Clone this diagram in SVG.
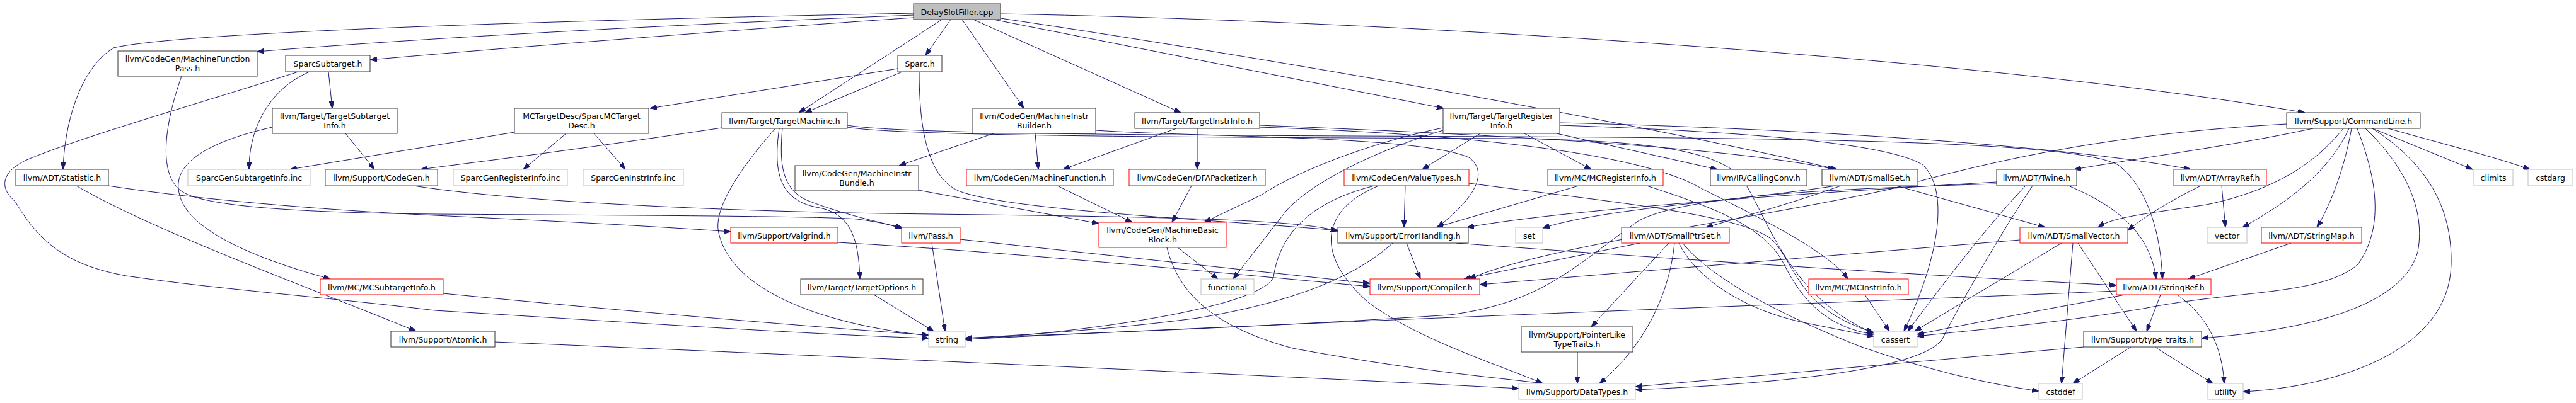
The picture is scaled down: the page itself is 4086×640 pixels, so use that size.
<svg xmlns="http://www.w3.org/2000/svg" width="4086" height="640" viewBox="0 0 4086 640">
<style>
rect{fill:#fff;stroke-width:1}
.b{stroke:#333}
.r{stroke:#ff0000}
.g{stroke:#bfbfbf}
.root{fill:#bfbfbf;stroke:#333}
text{font-family:"DejaVu Sans",sans-serif;font-size:12.5px;text-anchor:middle;fill:#000}
#edges path{fill:none;stroke:#191970;stroke-width:1;marker-end:url(#arr)}
</style>
<defs>
<marker id="arr" markerWidth="11" markerHeight="8" refX="11" refY="4" orient="auto" markerUnits="userSpaceOnUse"><path d="M0,0 L11,4 L0,8 Z" fill="#191970" stroke="#191970" stroke-width="1"/></marker>
</defs>
<rect x="0" y="0" width="4086" height="640" style="fill:#fff;stroke:none"/>
<g id="edges">
<path d="M1449,21 C1000,30 300,48 180,76 C125,110 102,200 100,269"/>
<path d="M1449,24 C1100,38 700,58 408,82"/>
<path d="M1449,28 C1200,45 800,76 587,95"/>
<path d="M1494,31 L1267,179"/>
<path d="M1508,31 L1468,88"/>
<path d="M1526,31 L1624,172"/>
<path d="M1544,31 L1873,179"/>
<path d="M1576,31 L2290,172"/>
<path d="M1587,29 C2000,90 2600,195 2914,269"/>
<path d="M1587,22 C2300,35 3200,100 3656,179"/>
<path d="M1424,109 L1031,172"/>
<path d="M1431,114 L1277,179"/>
<path d="M1458,114 C1458,200 1470,280 1520,303 C1600,335 1950,350 2122,366"/>
<path d="M521,114 L527,172"/>
<path d="M491,114 C430,140 395,200 395,269"/>
<path d="M473,114 C330,160 120,220 40,255 C0,275 0,300 24,320 C60,380 100,420 200,438 C350,460 500,470 690,493 C1000,512 1300,532 1473,537"/>
<path d="M288,121 C260,200 250,280 290,305 C330,330 500,338 690,340 C1000,342 1300,343 1360,348 C1390,352 1410,356 1430,363"/>
<path d="M121,295 C250,370 500,460 660,526"/>
<path d="M172,295 C300,315 500,333 690,342 C900,352 1050,360 1159,368"/>
<path d="M432,202 C330,225 270,260 285,310 C300,370 420,415 524,443"/>
<path d="M548,212 L594,269"/>
<path d="M816,210 L460,269"/>
<path d="M898,212 L830,269"/>
<path d="M942,212 L992,269"/>
<path d="M1145,203 C900,240 750,258 667,269"/>
<path d="M1241,204 C1236,260 1240,300 1280,318 C1330,338 1390,352 1432,362"/>
<path d="M1236,204 C1225,280 1240,320 1300,330 C1350,340 1362,380 1364,443"/>
<path d="M1230,204 C1180,260 1130,330 1140,370 C1160,460 1300,515 1473,533"/>
<path d="M1344,202 C1420,215 1800,218 2400,220 C2620,223 2720,240 2760,280 C2800,330 2830,470 2972,529"/>
<path d="M1344,199 C1420,212 1800,215 2400,217 C3000,220 3300,230 3360,262 C3410,300 3428,380 3430,443"/>
<path d="M1642,212 L1647,269"/>
<path d="M1576,212 L1426,263"/>
<path d="M1738,207 C1900,218 2250,215 2330,250 C2370,280 2320,330 2280,361"/>
<path d="M1866,204 L1686,269"/>
<path d="M1899,204 L1899,269"/>
<path d="M1998,199 C2400,215 2750,235 2910,269"/>
<path d="M1998,202 C2300,212 2600,240 2700,300 C2800,350 2900,400 2931,443"/>
<path d="M2348,212 L2256,269"/>
<path d="M2418,212 L2524,269"/>
<path d="M2469,212 L2724,269"/>
<path d="M2474,195 C2900,205 3300,235 3475,269"/>
<path d="M2474,199 C2800,210 3000,230 3050,262 C3090,300 3080,400 3020,526"/>
<path d="M2289,203 C2180,225 2060,270 2000,310 L1910,353"/>
<path d="M2289,207 C2180,240 2080,290 2040,335 L1956,443"/>
<path d="M2180,295 C2080,320 2030,370 2020,440 C2000,490 1700,530 1531,539"/>
<path d="M2229,295 L2227,361"/>
<path d="M2187,295 C2100,330 2080,400 2170,480 C2250,540 2380,580 2447,609"/>
<path d="M2330,291 C2550,320 2760,340 2810,380 C2850,420 2850,490 2972,528"/>
<path d="M2504,295 L2278,361"/>
<path d="M2612,295 C2720,330 2800,360 2830,420 C2860,480 2900,520 2972,531"/>
<path d="M3281,295 C3340,320 3410,360 3420,443"/>
<path d="M3224,295 C3180,360 3110,480 3080,540 C3040,590 2800,610 2594,619"/>
<path d="M3213,295 C3170,340 3120,400 3026,526"/>
<path d="M3167,289 C2900,305 2500,330 2327,361"/>
<path d="M3167,292 C2900,300 2680,310 2600,350 C2500,420 2450,480 2300,500 C2000,520 1700,530 1531,537"/>
<path d="M2920,295 C2850,320 2780,340 2706,361"/>
<path d="M2912,295 C2750,320 2550,330 2447,362"/>
<path d="M3008,295 L3244,361"/>
<path d="M2601,386 L2322,443"/>
<path d="M2647,386 L2524,519"/>
<path d="M2656,386 C2650,450 2620,540 2537,609"/>
<path d="M2663,386 C2690,440 2760,490 2860,512 C2920,524 2950,530 2972,534"/>
<path d="M2669,386 C2720,450 2850,510 2950,550 C3080,595 3170,612 3234,621"/>
<path d="M2502,559 L2502,609"/>
<path d="M3204,381 L2347,452"/>
<path d="M3270,386 L3037,526"/>
<path d="M3288,386 L3270,609"/>
<path d="M3296,386 L3389,526"/>
<path d="M2958,468 L2997,526"/>
<path d="M3357,462 C3000,478 2200,505 1531,539"/>
<path d="M3371,468 C3250,490 3120,515 3041,531"/>
<path d="M3427,468 L3405,526"/>
<path d="M3453,468 C3500,500 3525,550 3528,609"/>
<path d="M3305,551 L2594,614"/>
<path d="M3380,551 L3288,609"/>
<path d="M3418,551 L3510,609"/>
<path d="M3634,386 L3471,443"/>
<path d="M3491,295 C3440,320 3400,345 3375,366"/>
<path d="M3524,295 L3530,361"/>
<path d="M3627,197 C3350,212 3160,255 3000,300 C2800,345 2450,390 2330,443"/>
<path d="M3669,204 C3550,230 3400,250 3290,269"/>
<path d="M3717,204 C3680,250 3620,300 3500,325 C3400,340 3350,345 3328,361"/>
<path d="M3726,204 C3700,260 3650,310 3557,361"/>
<path d="M3730,204 C3720,260 3700,320 3675,361"/>
<path d="M3739,204 C3760,260 3790,350 3740,420 C3680,470 3550,460 3400,490 C3250,515 3120,525 3041,534"/>
<path d="M3752,204 C3800,250 3850,320 3835,400 C3810,490 3650,525 3492,537"/>
<path d="M3763,204 C3850,260 3890,330 3888,420 C3885,560 3700,615 3558,622"/>
<path d="M3763,204 L3922,269"/>
<path d="M3788,204 C3880,230 3960,250 4013,269"/>
<path d="M1868,393 L1932,443"/>
<path d="M1851,393 C1870,470 1930,520 2050,553 C2250,590 2380,600 2447,609"/>
<path d="M1677,295 L1796,353"/>
<path d="M1890,295 L1859,353"/>
<path d="M1457,302 L1743,355"/>
<path d="M1478,386 L1499,526"/>
<path d="M1523,380 L2173,450"/>
<path d="M1329,385 C1600,400 1900,430 2173,455"/>
<path d="M1386,468 L1481,526"/>
<path d="M703,466 C1000,495 1300,520 1473,532"/>
<path d="M785,543 C1300,565 2000,595 2409,617"/>
<path d="M2231,386 L2253,443"/>
<path d="M2209,386 C2150,440 2050,480 1900,505 C1750,525 1600,533 1531,537"/>
<path d="M2310,386 C2700,415 3100,440 3357,453"/>
<path d="M656,295 C800,318 1100,334 1400,339 C1800,344 2050,346 2122,367"/>
</g>
<g id="n_dsf"><rect class="root" x="1449" y="6" width="138" height="25"/><text x="1518" y="23.5">DelaySlotFiller.cpp</text></g>
<g id="n_mfp"><rect class="b" x="187" y="81" width="221" height="40"/><text x="297.5" y="98">llvm/CodeGen/MachineFunction</text><text x="297.5" y="112.5">Pass.h</text></g>
<g id="n_sst"><rect class="b" x="453" y="88" width="134" height="26"/><text x="520" y="105.5">SparcSubtarget.h</text></g>
<g id="n_sparc"><rect class="b" x="1424" y="88" width="70" height="26"/><text x="1459" y="105.5">Sparc.h</text></g>
<g id="n_tsi"><rect class="b" x="432" y="172" width="198" height="40"/><text x="531" y="189">llvm/Target/TargetSubtarget</text><text x="531" y="203.5">Info.h</text></g>
<g id="n_mctd"><rect class="b" x="816" y="172" width="213" height="40"/><text x="922.5" y="189">MCTargetDesc/SparcMCTarget</text><text x="922.5" y="203.5">Desc.h</text></g>
<g id="n_tm"><rect class="b" x="1145" y="179" width="199" height="25"/><text x="1244.5" y="196.5">llvm/Target/TargetMachine.h</text></g>
<g id="n_mib"><rect class="b" x="1543" y="172" width="195" height="40"/><text x="1640.5" y="189">llvm/CodeGen/MachineInstr</text><text x="1640.5" y="203.5">Builder.h</text></g>
<g id="n_tii"><rect class="b" x="1800" y="179" width="198" height="25"/><text x="1899" y="196.5">llvm/Target/TargetInstrInfo.h</text></g>
<g id="n_tri"><rect class="b" x="2289" y="172" width="185" height="40"/><text x="2381.5" y="189">llvm/Target/TargetRegister</text><text x="2381.5" y="203.5">Info.h</text></g>
<g id="n_cl"><rect class="b" x="3627" y="179" width="212" height="25"/><text x="3733" y="196.5">llvm/Support/CommandLine.h</text></g>
<g id="n_stat"><rect class="b" x="25" y="269" width="147" height="26"/><text x="98.5" y="287">llvm/ADT/Statistic.h</text></g>
<g id="n_sgsi"><rect class="g" x="298" y="269" width="194" height="26"/><text x="395" y="287">SparcGenSubtargetInfo.inc</text></g>
<g id="n_cg"><rect class="r" x="516" y="269" width="178" height="26"/><text x="605" y="287">llvm/Support/CodeGen.h</text></g>
<g id="n_sgri"><rect class="g" x="719" y="269" width="181" height="26"/><text x="809.5" y="287">SparcGenRegisterInfo.inc</text></g>
<g id="n_sgii"><rect class="g" x="925" y="269" width="159" height="26"/><text x="1004.5" y="287">SparcGenInstrInfo.inc</text></g>
<g id="n_mibun"><rect class="b" x="1261" y="263" width="196" height="40"/><text x="1359" y="280">llvm/CodeGen/MachineInstr</text><text x="1359" y="294.5">Bundle.h</text></g>
<g id="n_mf"><rect class="r" x="1533" y="269" width="233" height="26"/><text x="1649.5" y="287">llvm/CodeGen/MachineFunction.h</text></g>
<g id="n_dfa"><rect class="r" x="1791" y="269" width="216" height="26"/><text x="1899" y="287">llvm/CodeGen/DFAPacketizer.h</text></g>
<g id="n_vt"><rect class="r" x="2132" y="269" width="198" height="26"/><text x="2231" y="287">llvm/CodeGen/ValueTypes.h</text></g>
<g id="n_mcri"><rect class="r" x="2455" y="269" width="183" height="26"/><text x="2546.5" y="287">llvm/MC/MCRegisterInfo.h</text></g>
<g id="n_cc"><rect class="b" x="2713" y="269" width="153" height="26"/><text x="2789.5" y="287">llvm/IR/CallingConv.h</text></g>
<g id="n_sset"><rect class="b" x="2890" y="269" width="152" height="26"/><text x="2966" y="287">llvm/ADT/SmallSet.h</text></g>
<g id="n_twine"><rect class="b" x="3167" y="269" width="127" height="26"/><text x="3230.5" y="287">llvm/ADT/Twine.h</text></g>
<g id="n_aref"><rect class="r" x="3448" y="269" width="147" height="26"/><text x="3521.5" y="287">llvm/ADT/ArrayRef.h</text></g>
<g id="n_climits"><rect class="g" x="3924" y="269" width="62" height="26"/><text x="3955" y="287">climits</text></g>
<g id="n_cstdarg"><rect class="g" x="4010" y="269" width="71" height="26"/><text x="4045.5" y="287">cstdarg</text></g>
<g id="n_valg"><rect class="r" x="1159" y="361" width="170" height="25"/><text x="1244" y="378.5">llvm/Support/Valgrind.h</text></g>
<g id="n_pass"><rect class="r" x="1430" y="361" width="93" height="25"/><text x="1476.5" y="378.5">llvm/Pass.h</text></g>
<g id="n_mbb"><rect class="r" x="1743" y="353" width="202" height="40"/><text x="1844" y="370">llvm/CodeGen/MachineBasic</text><text x="1844" y="384.5">Block.h</text></g>
<g id="n_eh"><rect class="b" x="2122" y="361" width="207" height="25"/><text x="2225.5" y="378.5">llvm/Support/ErrorHandling.h</text></g>
<g id="n_set"><rect class="g" x="2404" y="361" width="43" height="25"/><text x="2425.5" y="378.5">set</text></g>
<g id="n_sps"><rect class="r" x="2572" y="361" width="171" height="25"/><text x="2657.5" y="378.5">llvm/ADT/SmallPtrSet.h</text></g>
<g id="n_svec"><rect class="r" x="3204" y="361" width="171" height="25"/><text x="3289.5" y="378.5">llvm/ADT/SmallVector.h</text></g>
<g id="n_vector"><rect class="g" x="3501" y="361" width="63" height="25"/><text x="3532.5" y="378.5">vector</text></g>
<g id="n_smap"><rect class="r" x="3587" y="361" width="159" height="25"/><text x="3666.5" y="378.5">llvm/ADT/StringMap.h</text></g>
<g id="n_mcsi"><rect class="r" x="508" y="443" width="195" height="25"/><text x="605.5" y="460.5">llvm/MC/MCSubtargetInfo.h</text></g>
<g id="n_topt"><rect class="b" x="1270" y="443" width="194" height="25"/><text x="1367" y="460.5">llvm/Target/TargetOptions.h</text></g>
<g id="n_func"><rect class="g" x="1905" y="443" width="84" height="25"/><text x="1947" y="460.5">functional</text></g>
<g id="n_comp"><rect class="r" x="2173" y="443" width="174" height="25"/><text x="2260" y="460.5">llvm/Support/Compiler.h</text></g>
<g id="n_mcii"><rect class="r" x="2869" y="443" width="158" height="25"/><text x="2948" y="460.5">llvm/MC/MCInstrInfo.h</text></g>
<g id="n_sref"><rect class="r" x="3357" y="443" width="150" height="25"/><text x="3432" y="460.5">llvm/ADT/StringRef.h</text></g>
<g id="n_atomic"><rect class="b" x="620" y="526" width="165" height="25"/><text x="702.5" y="543.5">llvm/Support/Atomic.h</text></g>
<g id="n_string"><rect class="g" x="1473" y="526" width="58" height="25"/><text x="1502" y="543.5">string</text></g>
<g id="n_plt"><rect class="b" x="2413" y="519" width="177" height="40"/><text x="2501.5" y="536">llvm/Support/PointerLike</text><text x="2501.5" y="550.5">TypeTraits.h</text></g>
<g id="n_cassert"><rect class="g" x="2972" y="526" width="69" height="25"/><text x="3006.5" y="543.5">cassert</text></g>
<g id="n_tt"><rect class="b" x="3305" y="526" width="187" height="25"/><text x="3398.5" y="543.5">llvm/Support/type_traits.h</text></g>
<g id="n_dt"><rect class="g" x="2409" y="609" width="185" height="25"/><text x="2501.5" y="626.5">llvm/Support/DataTypes.h</text></g>
<g id="n_cstddef"><rect class="g" x="3234" y="609" width="69" height="25"/><text x="3268.5" y="626.5">cstddef</text></g>
<g id="n_utility"><rect class="g" x="3502" y="609" width="56" height="25"/><text x="3530" y="626.5">utility</text></g>
</svg>
